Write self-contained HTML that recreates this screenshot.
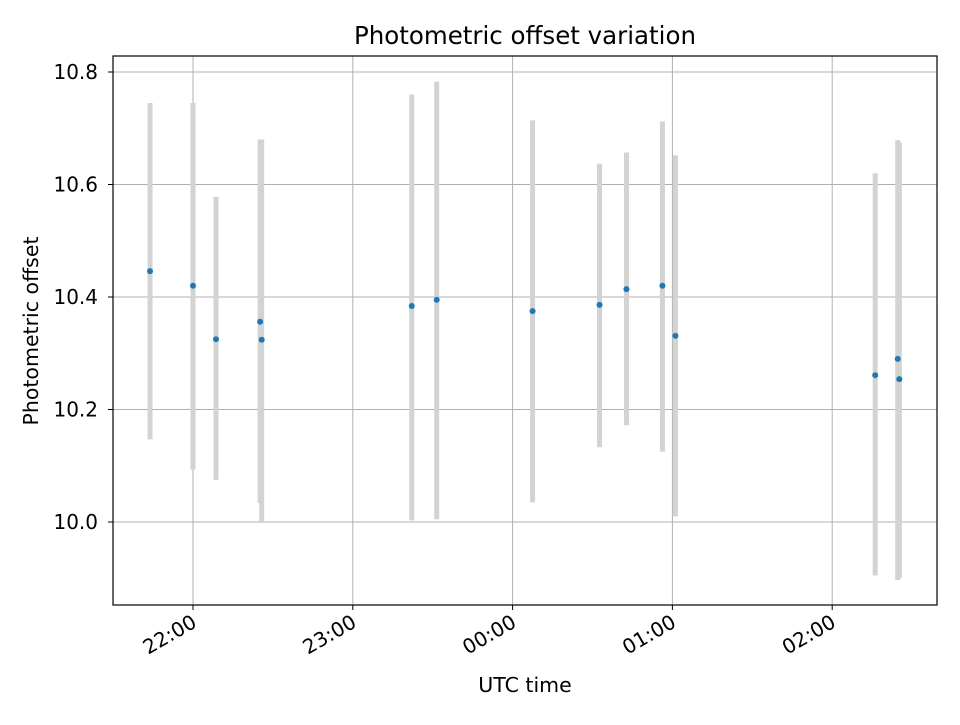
<!DOCTYPE html>
<html><head><meta charset="utf-8"><style>
body{margin:0;background:#fff;font-family:"Liberation Sans","DejaVu Sans",sans-serif}
</style></head><body>
<svg id="chart" width="960" height="720" xmlns="http://www.w3.org/2000/svg" font-family="DejaVu Sans, Liberation Sans, sans-serif">
<rect width="960" height="720" fill="#fff"/>
<g id="grid"></g><g id="bars"></g><g id="pts"></g>
<rect x="113" y="56" width="824" height="549" fill="none" stroke="#000" stroke-width="1.2"/>
<g id="axes"></g>
<text x="525" y="44" text-anchor="middle" font-size="24.5">Photometric offset variation</text>
<text x="525" y="692" text-anchor="middle" font-size="20.5">UTC time</text>
<text transform="translate(38,331) rotate(-90)" text-anchor="middle" font-size="20.5">Photometric offset</text>
</svg>
<script>
// hours relative to 22:00
const times=[-0.269,0,0.144,0.42,0.43,1.369,1.525,2.125,2.544,2.7125,2.9375,3.019,4.269,4.41,4.42];
const values=[10.446,10.420,10.325,10.356,10.324,10.384,10.395,10.375,10.386,10.414,10.420,10.331,10.261,10.290,10.254];
const lows=[10.147,10.093,10.075,10.034,10.0,10.003,10.005,10.035,10.133,10.172,10.125,10.01,9.905,9.897,9.90];
const highs=[10.745,10.745,10.578,10.68,10.68,10.76,10.783,10.714,10.637,10.657,10.712,10.652,10.620,10.679,10.675];
const yTicks=[10.0,10.2,10.4,10.6,10.8];
const xTickHours=[0,1,2,3,4];
const xTickLabels=["22:00","23:00","00:00","01:00","02:00"];
const NS="http://www.w3.org/2000/svg";
const X=h=>193+h*159.8;
const Y=v=>522-(v-10)*562.5;
function mk(tag,attrs,parent){const e=document.createElementNS(NS,tag);for(const k in attrs)e.setAttribute(k,attrs[k]);document.getElementById(parent).appendChild(e);return e;}
yTicks.forEach(t=>{
 const g=mk('line',{x1:113,x2:937,y1:Y(t),y2:Y(t),stroke:'#b0b0b0','stroke-width':1},'grid');
 
 
 mk('line',{x1:108,x2:113,y1:Y(t),y2:Y(t),stroke:'#000'},'axes');
 const tx=mk('text',{x:98,y:Y(t)+7,'text-anchor':'end','font-size':20},'axes');
 tx.textContent=t.toFixed(1);
 
 
});
xTickHours.forEach((h,i)=>{
 const g=mk('line',{x1:X(h),x2:X(h),y1:56,y2:605,stroke:'#b0b0b0','stroke-width':1},'grid');
 
 
 mk('line',{x1:X(h),x2:X(h),y1:605,y2:610,stroke:'#000'},'axes');
 const tx=mk('text',{x:0,y:0,'text-anchor':'end','font-size':20,transform:`translate(${X(h)+5},${626}) rotate(-30)`},'axes');
 tx.textContent=xTickLabels[i];
 
 
});
times.forEach((t,i)=>{
 const b=mk('line',{x1:X(t),x2:X(t),y1:Y(lows[i]),y2:Y(highs[i]),stroke:'#d3d3d3','stroke-width':5},'bars');
 
 
 const p=mk('circle',{cx:X(t),cy:Y(values[i]),r:3,fill:'#1f77b4'},'pts');
 
 
});
</script>
</body></html>
